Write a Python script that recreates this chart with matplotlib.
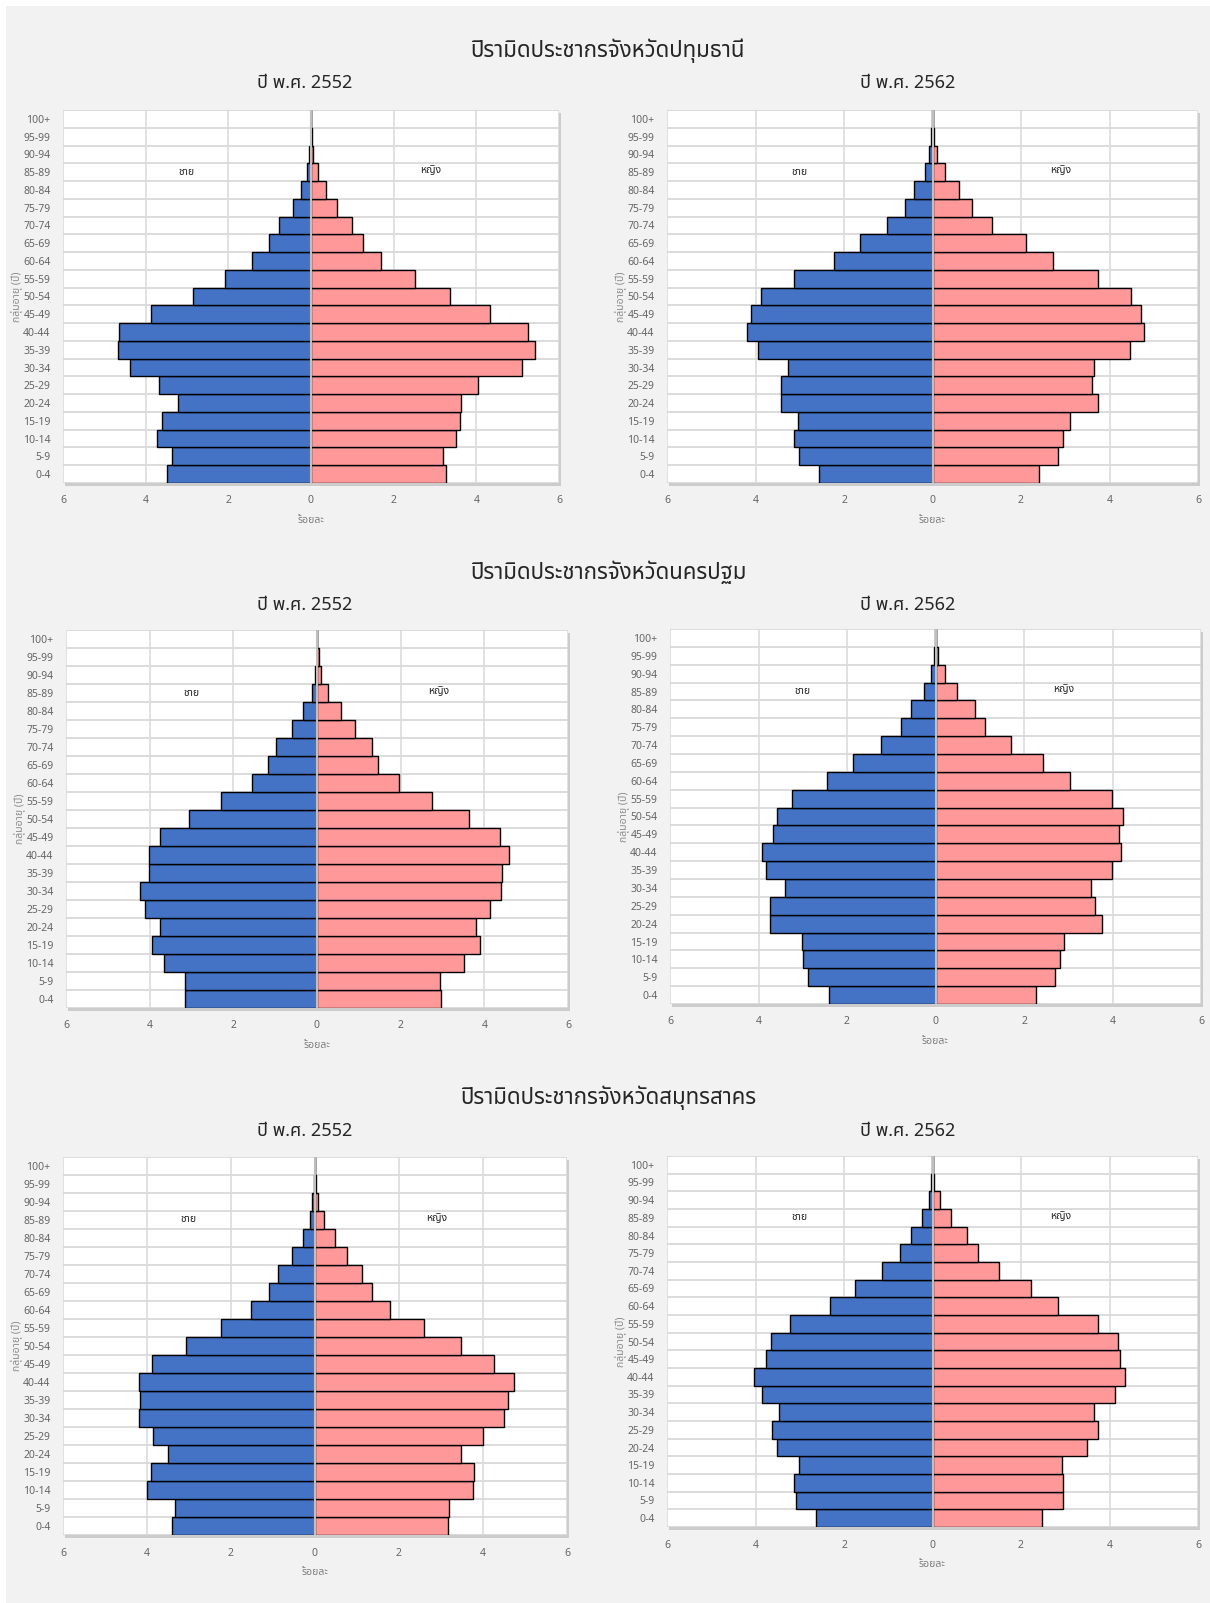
import matplotlib
matplotlib.use('Agg')
import matplotlib.pyplot as plt
from matplotlib import font_manager
from matplotlib.ft2font import FT2Font
from matplotlib.patches import Rectangle
import numpy as np

# กลุ่มอายุ จากล่างขึ้นบน
age_groups = ['0-4', '5-9', '10-14', '15-19', '20-24', '25-29', '30-34', '35-39',
              '40-44', '45-49', '50-54', '55-59', '60-64', '65-69', '70-74',
              '75-79', '80-84', '85-89', '90-94', '95-99', '100+']

provinces = ['ปทุมธานี', 'นครปฐม', 'สมุทรสาคร']
years = ['2552', '2562']

# ร้อยละ ชาย / หญิง
pathum_2552_male = [3.49, 3.36, 3.72, 3.61, 3.22, 3.68, 4.39, 4.68, 4.64, 3.86, 2.85,
                    2.09, 1.42, 1.02, 0.78, 0.44, 0.23, 0.09, 0.04, 0.01, 0.005]
pathum_2552_female = [3.26, 3.19, 3.52, 3.60, 3.64, 4.05, 5.10, 5.41, 5.24, 4.34, 3.36,
                      2.52, 1.70, 1.26, 0.99, 0.62, 0.36, 0.17, 0.05, 0.02, 0.01]
pathum_2562_male = [2.56, 3.02, 3.12, 3.05, 3.42, 3.42, 3.27, 3.95, 4.20, 4.10, 3.87,
                    3.12, 2.22, 1.63, 1.02, 0.62, 0.41, 0.17, 0.07, 0.03, 0.01]
pathum_2562_female = [2.41, 2.83, 2.94, 3.10, 3.73, 3.61, 3.65, 4.46, 4.79, 4.71, 4.49,
                      3.73, 2.73, 2.12, 1.35, 0.89, 0.59, 0.29, 0.11, 0.03, 0.01]
nakhon_2552_male = [3.16, 3.16, 3.66, 3.94, 3.75, 4.11, 4.23, 4.01, 4.01, 3.75, 3.07,
                    2.30, 1.55, 1.16, 0.97, 0.59, 0.33, 0.12, 0.05, 0.01, 0.005]
nakhon_2552_female = [2.96, 2.95, 3.51, 3.90, 3.80, 4.13, 4.40, 4.43, 4.58, 4.37, 3.63,
                      2.74, 1.96, 1.47, 1.31, 0.90, 0.58, 0.27, 0.09, 0.04, 0.01]
nakhon_2562_male = [2.40, 2.88, 2.99, 3.02, 3.73, 3.75, 3.41, 3.82, 3.93, 3.68, 3.59,
                    3.25, 2.45, 1.87, 1.24, 0.77, 0.55, 0.26, 0.10, 0.03, 0.01]
nakhon_2562_female = [2.27, 2.69, 2.81, 2.91, 3.76, 3.61, 3.51, 3.98, 4.19, 4.15, 4.23,
                      3.99, 3.05, 2.42, 1.70, 1.11, 0.89, 0.49, 0.22, 0.06, 0.02]
samut_2552_male = [3.40, 3.34, 4.00, 3.91, 3.49, 3.86, 4.20, 4.16, 4.20, 3.89, 3.06,
                   2.23, 1.52, 1.10, 0.89, 0.54, 0.28, 0.13, 0.06, 0.02, 0.01]
samut_2552_female = [3.17, 3.20, 3.76, 3.78, 3.47, 4.00, 4.49, 4.59, 4.73, 4.26, 3.47,
                     2.59, 1.79, 1.35, 1.13, 0.76, 0.48, 0.22, 0.07, 0.03, 0.01]
samut_2562_male = [2.64, 3.08, 3.13, 3.02, 3.51, 3.63, 3.47, 3.85, 4.03, 3.77, 3.65,
                   3.22, 2.32, 1.76, 1.15, 0.73, 0.49, 0.24, 0.08, 0.03, 0.01]
samut_2562_female = [2.48, 2.96, 2.96, 2.93, 3.50, 3.75, 3.64, 4.13, 4.35, 4.24, 4.20,
                     3.73, 2.84, 2.22, 1.51, 1.02, 0.77, 0.41, 0.17, 0.04, 0.02]

data = [
    [(pathum_2552_male, pathum_2552_female), (pathum_2562_male, pathum_2562_female)],
    [(nakhon_2552_male, nakhon_2552_female), (nakhon_2562_male, nakhon_2562_female)],
    [(samut_2552_male, samut_2552_female), (samut_2562_male, samut_2562_female)],
]


def find_thai_font():
    names = []
    for f in font_manager.fontManager.ttflist:
        try:
            if 0x0E1B in FT2Font(f.fname).get_charmap():
                names.append(f.name)
        except Exception:
            pass
    for pref in ['Noto Sans Thai', 'Noto Sans Thai UI', 'Sarabun', 'Tahoma', 'Leelawadee UI']:
        if pref in names:
            return pref
    return names[0] if names else 'DejaVu Sans'


thai = find_thai_font()
plt.rcParams['font.family'] = [thai, 'DejaVu Sans']

W, H = 1210, 1603
fig = plt.figure(figsize=(W / 100, H / 100), dpi=100)
fig.patch.set_facecolor('white')
fig.patches.append(Rectangle((6 / W, 0), 1, 1 - 6 / H, transform=fig.transFigure,
                             facecolor='#f2f2f2', edgecolor='none', zorder=-3))

# left, right, top, bottom in pixels
boxes = [
    [(63, 559, 110, 483), (667, 1198, 110, 483)],
    [(66, 568, 630, 1008), (670, 1201, 629, 1004)],
    [(63, 567, 1157, 1535), (667, 1198, 1156, 1527)],
]
title_y = [51, 572, 1098]
sub_y = [83, 605, 1131]
sub_x = [305, 908]

BLUE = '#4472c4'
PINK = '#ff9999'
GRID = '#d9d9d9'
TXT = '#666666'

y = np.arange(len(age_groups))

for r in range(3):
    fig.text(608 / W, 1 - title_y[r] / H, 'ปิรามิดประชากรจังหวัด' + provinces[r],
             ha='center', va='center', fontsize=16, color='#262626')
    for c in range(2):
        l, rt, t, b = boxes[r][c]
        ax = fig.add_axes([l / W, 1 - b / H, (rt - l) / W, (b - t) / H])
        fig.patches.append(Rectangle(((l + 2) / W, 1 - (b + 3) / H), (rt - l) / W, (b - t) / H,
                                     transform=fig.transFigure, facecolor='#cccccc',
                                     edgecolor='none', zorder=-1))
        male, female = data[r][c]
        ax.barh(y, -np.array(male), height=1.0, color=BLUE, edgecolor='black', linewidth=1.0, zorder=3)
        ax.barh(y, female, height=1.0, color=PINK, edgecolor='black', linewidth=1.0, zorder=3)
        ax.set_xlim(-6, 6)
        ax.set_ylim(-0.5, len(age_groups) - 0.5)
        for v in [-6, -4, -2, 2, 4, 6]:
            ax.axvline(v, color=GRID, lw=1.1, zorder=1)
        for v in np.arange(-0.5, len(age_groups), 1.0):
            ax.axhline(v, color=GRID, lw=1.3, zorder=1)
        ax.axvline(0, color='#bfbfbf', lw=1.5, zorder=4)
        for s in ax.spines.values():
            s.set_visible(False)
        ax.set_yticks(y)
        ax.set_yticklabels(age_groups)
        ax.set_xticks([-6, -4, -2, 0, 2, 4, 6])
        ax.set_xticklabels(['6', '4', '2', '0', '2', '4', '6'])
        ax.tick_params(length=0, labelsize=7.5, labelcolor=TXT)
        ax.tick_params(axis='y', pad=9)
        ax.tick_params(axis='x', pad=9)
        ax.set_xlabel('ร้อยละ', fontsize=7.5, color='#7f7f7f', labelpad=6)
        ax.set_ylabel('กลุ่มอายุ (ปี)', fontsize=7.5, color='#8c8c8c')
        ax.yaxis.set_label_coords(-40 / (rt - l), 0.5)
        ax.text(-3, 17, 'ชาย', ha='center', va='center', fontsize=7.5, color='#262626', zorder=5)
        ax.text(2.9, 17.1, 'หญิง', ha='center', va='center', fontsize=7.5, color='#262626', zorder=5)
        fig.text(sub_x[c] / W, 1 - sub_y[r] / H, 'ปี พ.ศ. ' + years[c],
                 ha='center', va='center', fontsize=13, color='#262626')

fig.savefig('out.png', dpi=100, facecolor=fig.get_facecolor())
